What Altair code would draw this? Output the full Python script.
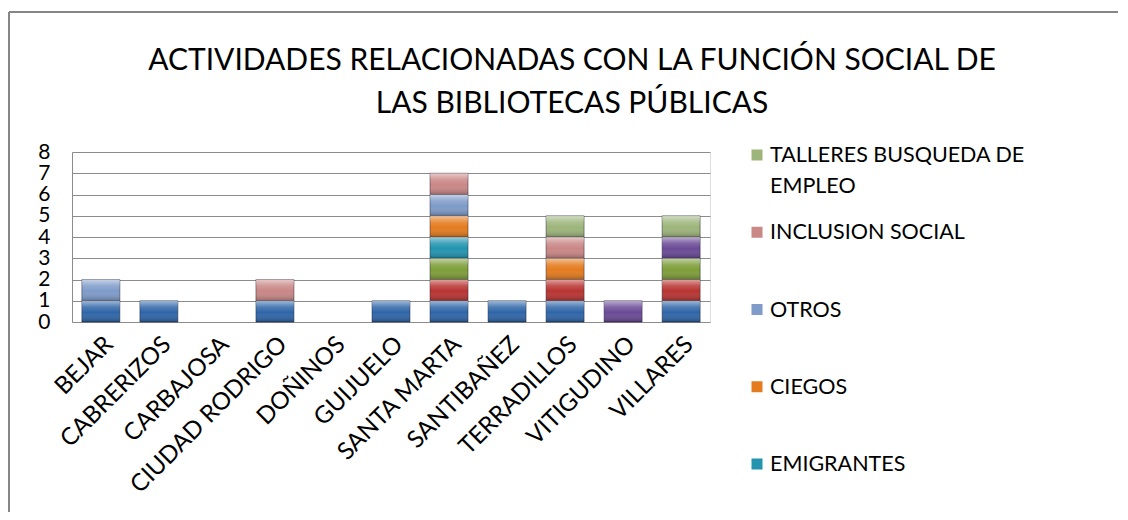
import altair as alt
import pandas as pd

categories = ["BEJAR", "CABRERIZOS", "CARBAJOSA", "CIUDAD RODRIGO", "DOÑINOS", "GUIJUELO",
              "SANTA MARTA", "SANTIBAÑEZ", "TERRADILLOS", "VITIGUDINO", "VILLARES"]

# stacking order bottom -> top (first four series names are cut off in the original legend)
series = ["SERIE 1", "SERIE 2", "SERIE 3", "SERIE 4", "EMIGRANTES", "CIEGOS", "OTROS",
          "INCLUSION SOCIAL", "TALLERES BUSQUEDA DE EMPLEO"]
colors = ["#2F66A8", "#B83431", "#7E9E38", "#6A4A96", "#2294B0", "#E47B1E", "#7E9BC9",
          "#C98786", "#9DB57B"]

s1 = [1, 1, 0, 1, 0, 1, 1, 1, 1, 0, 1]
s2 = [0, 0, 0, 0, 0, 0, 1, 0, 1, 0, 1]
s3 = [0, 0, 0, 0, 0, 0, 1, 0, 0, 0, 1]
s4 = [0, 0, 0, 0, 0, 0, 0, 0, 0, 1, 1]
emigrantes = [0, 0, 0, 0, 0, 0, 1, 0, 0, 0, 0]
ciegos = [0, 0, 0, 0, 0, 0, 1, 0, 1, 0, 0]
otros = [1, 0, 0, 0, 0, 0, 1, 0, 0, 0, 0]
inclusion = [0, 0, 0, 1, 0, 0, 1, 0, 1, 0, 0]
talleres = [0, 0, 0, 0, 0, 0, 0, 0, 1, 0, 1]

legend_values = ["TALLERES BUSQUEDA DE EMPLEO", "INCLUSION SOCIAL", "OTROS", "CIEGOS", "EMIGRANTES"]
legend_labels = ["TALLERES BUSQUEDA DE\nEMPLEO", "INCLUSION SOCIAL", "OTROS", "CIEGOS", "EMIGRANTES"]
y_ticks = [0, 1, 2, 3, 4, 5, 6, 7, 8]
title_text = "ACTIVIDADES RELACIONADAS CON LA FUNCIÓN SOCIAL DE\nLAS BIBLIOTECAS PÚBLICAS"

all_series = [s1, s2, s3, s4, emigrantes, ciegos, otros, inclusion, talleres]
rows = []
for i, (name, vals) in enumerate(zip(series, all_series)):
    for cat, v in zip(categories, vals):
        rows.append({"category": cat, "series": name, "value": v, "order": i})
df = pd.DataFrame(rows)
legend_df = pd.DataFrame({"series": legend_values, "label": legend_labels})

FONT = "Lato"

color_scale = alt.Scale(domain=series, range=colors)

base = alt.Chart(df).transform_filter("datum.value > 0").transform_stack(
    stack="value", as_=["y0", "y1"], groupby=["category"],
    sort=[alt.SortField("order", order="ascending")]
)

xscale = alt.Scale(domain=categories, paddingInner=0.345, paddingOuter=0.17)
xaxis = alt.Axis(title=None, labelAngle=-45, labelFontSize=24, labelFont=FONT,
                 labelColor="#000000", ticks=False, domain=False, labelPadding=10,
                 labelLimit=400)
yscale = alt.Scale(domain=[0, 8], nice=False)
yaxis = alt.Axis(title=None, values=y_ticks, labelFontSize=21, labelFont=FONT,
                 labelColor="#000000", ticks=False, domain=True, domainColor="#8c8c8c",
                 gridColor="#8c8c8c", labelPadding=22, grid=True, labelOverlap=False)

bars = base.mark_bar(stroke="rgba(20,20,40,0.45)", strokeWidth=1).encode(
    x=alt.X("category:N", sort=categories, scale=xscale, axis=xaxis),
    y=alt.Y("y0:Q", scale=yscale, axis=yaxis),
    y2="y1:Q",
    color=alt.Color("series:N", scale=color_scale, legend=None),
)

gloss = alt.Gradient(
    gradient="linear", x1=0, y1=0, x2=0, y2=1,
    stops=[alt.GradientStop(color="rgba(255,255,255,0.55)", offset=0),
           alt.GradientStop(color="rgba(255,255,255,0.15)", offset=0.3),
           alt.GradientStop(color="rgba(255,255,255,0.0)", offset=0.55),
           alt.GradientStop(color="rgba(0,0,0,0.25)", offset=1)])

overlay = base.mark_bar(fill=gloss, strokeWidth=0).encode(
    x=alt.X("category:N", sort=categories, scale=xscale, axis=xaxis),
    y=alt.Y("y0:Q", scale=yscale, axis=None),
    y2="y1:Q",
)

# manual legend (only the five visible entries of the original)
leg_y = alt.Y("series:N", sort=legend_values,
              scale=alt.Scale(type="point", range=[3, 312], padding=0), axis=None)
leg_sym = alt.Chart(legend_df).mark_square(size=121, opacity=1).encode(
    x=alt.value(685), y=leg_y,
    color=alt.Color("series:N", scale=color_scale, legend=None))
leg_txt = alt.Chart(legend_df).mark_text(
    align="left", baseline="top", dy=-10, fontSize=21.5, font=FONT, color="#000000",
    lineBreak="\n", lineHeight=31).encode(
    x=alt.value(698), y=leg_y, text="label:N")
legend = alt.layer(leg_sym, leg_txt)

frame_df = pd.DataFrame({"k": [0]})
frame_top = alt.Chart(frame_df).mark_rule(color="#868686", strokeWidth=2).encode(
    x=alt.value(-63), x2=alt.value(1100), y=alt.value(-140))
frame_left = alt.Chart(frame_df).mark_rule(color="#868686", strokeWidth=2).encode(
    x=alt.value(-63), y=alt.value(-140), y2=alt.value(400))
title = alt.Chart(frame_df).mark_text(
    align="center", baseline="alphabetic", fontSize=30, font=FONT, color="#000000",
    lineBreak="\n", lineHeight=43).encode(
    x=alt.value(500), y=alt.value(-82), text=alt.value(title_text))

chart = alt.layer(frame_top, frame_left, title, bars, overlay, legend).resolve_scale(
    y="independent"
).properties(
    width=638, height=170,
    autosize=alt.AutoSizeParams(type="none"),
    padding={"left": 64, "top": 144, "right": 408, "bottom": 190},
).configure_view(stroke=None).configure(background="white")

chart.save("out.html", embed_options={"renderer": "svg", "actions": False})
